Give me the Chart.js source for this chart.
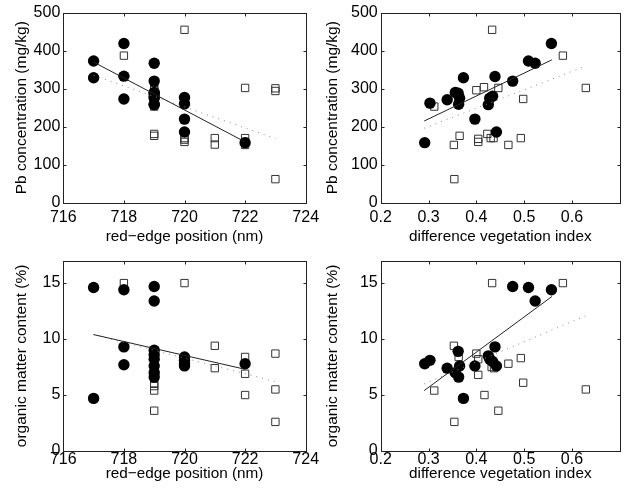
<!DOCTYPE html>
<html>
<head>
<meta charset="utf-8">
<script src="https://cdn.jsdelivr.net/npm/chart.js@4.4.1/dist/chart.umd.min.js"></script>
<style>
  body { margin: 0; background: #fff; }
  #wrap { position: relative; width: 626px; height: 493px; }
  #wrap canvas { position: absolute; left: 0; top: 0; }
</style>
</head>
<body>
<div id="wrap">
  <canvas id="pbRed" width="626" height="493"></canvas>
  <canvas id="pbDvi" width="626" height="493"></canvas>
  <canvas id="omRed" width="626" height="493"></canvas>
  <canvas id="omDvi" width="626" height="493"></canvas>
</div>
<script>
// axis ticks
const redTicks = [716, 718, 720, 722, 724];
const dviTicks = [0.2, 0.3, 0.4, 0.5, 0.6];
const pbTicks = [0, 100, 200, 300, 400, 500];
const omTicks = [0, 5, 10, 15];

// Pb vs red-edge position
const pbRedCircX = [717, 717, 718, 718, 718, 719, 719, 719, 719, 719, 719, 719, 719, 720, 720, 720, 720, 722];
const pbRedCircY = [373, 329, 419, 333, 273, 367, 320, 290, 288, 280, 275, 259, 258, 277, 260, 220, 186, 158];
const pbRedSqX = [718, 719, 719, 719, 719, 719, 719, 720, 720, 720, 720, 721, 721, 722, 722, 722, 722, 723, 723, 723];
const pbRedSqY = [387, 304, 296, 273, 253, 181, 176, 455, 170, 166, 160, 170, 153, 302, 170, 160, 152, 301, 294, 62];
const pbRedFitX = [717, 722];
const pbRedFitY = [370, 160];
const pbRedDotX = [717, 723];
const pbRedDotY = [335, 169];

// Pb vs difference vegetation index
const pbDviCircX = [0.292, 0.303, 0.339, 0.356, 0.362, 0.365, 0.363, 0.373, 0.397, 0.425, 0.428, 0.434, 0.439, 0.442, 0.476, 0.509, 0.523, 0.557];
const pbDviCircY = [158, 262, 271, 290, 288, 275, 259, 329, 220, 258, 275, 280, 332, 186, 320, 373, 367, 419];
const pbDviSqX = [0.312, 0.353, 0.354, 0.365, 0.400, 0.404, 0.404, 0.416, 0.423, 0.430, 0.436, 0.433, 0.446, 0.467, 0.493, 0.498, 0.581, 0.629];
const pbDviSqY = [253, 152, 62, 176, 296, 168, 160, 304, 181, 170, 170, 455, 302, 152, 170, 273, 387, 302];
const pbDviFitX = [0.291, 0.558];
const pbDviFitY = [215, 376];
const pbDviDotX = [0.291, 0.63];
const pbDviDotY = [196, 360];

// organic matter vs red-edge position
const omRedCircX = [717, 717, 718, 718, 718, 719, 719, 719, 719, 719, 719, 719, 719, 720, 720, 720, 720, 722];
const omRedCircY = [14.6, 4.7, 14.4, 9.3, 7.7, 14.7, 13.4, 9.0, 8.6, 8.2, 7.6, 7.0, 6.6, 8.4, 8.1, 7.8, 7.6, 7.8];
const omRedSqX = [718, 719, 719, 719, 719, 719, 720, 720, 721, 721, 722, 722, 722, 723, 723, 723];
const omRedSqY = [15.0, 8.5, 6.0, 5.8, 5.4, 3.6, 15.0, 8.2, 9.4, 7.4, 8.4, 6.9, 5.0, 8.7, 5.5, 2.6];
const omRedFitX = [717, 722];
const omRedFitY = [10.4, 7.3];
const omRedDotX = [717, 723];
const omRedDotY = [10.4, 6.2];

// organic matter vs difference vegetation index
const omDviCircX = [0.292, 0.303, 0.339, 0.356, 0.362, 0.365, 0.363, 0.373, 0.397, 0.425, 0.428, 0.434, 0.439, 0.442, 0.476, 0.509, 0.523, 0.557];
const omDviCircY = [7.8, 8.1, 7.4, 7.0, 8.9, 7.6, 6.6, 4.7, 7.6, 8.5, 8.2, 8.0, 9.3, 7.6, 14.7, 14.6, 13.4, 14.4];
const omDviSqX = [0.312, 0.353, 0.354, 0.363, 0.400, 0.404, 0.404, 0.417, 0.432, 0.437, 0.433, 0.446, 0.467, 0.493, 0.498, 0.581, 0.629];
const omDviSqY = [5.4, 9.4, 2.6, 8.4, 8.7, 8.2, 6.8, 5.0, 7.5, 7.4, 15.0, 3.6, 7.8, 8.3, 6.1, 15.0, 5.5];
const omDviFitX = [0.291, 0.558];
const omDviFitY = [5.4, 13.8];
const omDviDotX = [0.291, 0.63];
const omDviDotY = [6.0, 12.1];

const FONT = 'Liberation Sans, Arial, Helvetica, sans-serif';

function pts(xs, ys) {
    return xs.map((x, i) => ({ x: x, y: ys[i] }));
}

// matlab style box with inward ticks
const boxPlugin = {
    id: 'box',
    afterDraw(chart) {
        let ctx = chart.ctx;
        let a = chart.chartArea;
        let sx = chart.scales.x, sy = chart.scales.y;
        let L = Math.round(a.left) + 0.5, R = Math.round(a.right) + 0.5;
        let T = Math.round(a.top) + 0.5, B = Math.round(a.bottom) + 0.5;
        ctx.save();
        ctx.strokeStyle = '#222';
        ctx.lineWidth = 1;
        ctx.strokeRect(L, T, R - L, B - T);
        ctx.beginPath();
        sx.ticks.forEach(t => {
            let p = Math.round(sx.getPixelForValue(t.value)) + 0.5;
            ctx.moveTo(p, B); ctx.lineTo(p, B - 3);
            ctx.moveTo(p, T); ctx.lineTo(p, T + 3);
        });
        sy.ticks.forEach(t => {
            let p = Math.round(sy.getPixelForValue(t.value)) + 0.5;
            ctx.moveTo(L, p); ctx.lineTo(L + 3, p);
            ctx.moveTo(R, p); ctx.lineTo(R - 3, p);
        });
        ctx.stroke();
        ctx.restore();
    }
};

function createPanel(id, p) {
    let ctx = document.getElementById(id).getContext('2d');
    let datasets = [
        { data: pts(p.fitX, p.fitY), showLine: true, pointRadius: 0, borderColor: '#222', borderWidth: 1, order: 0 },
        { data: pts(p.dotX, p.dotY), showLine: true, pointRadius: 0, borderColor: '#888', borderWidth: 1, borderDash: [1, 5], order: 1 },
        { data: pts(p.circX, p.circY), pointStyle: 'circle', pointRadius: 5.7, backgroundColor: '#000', borderColor: '#000', borderWidth: 0, order: 2 },
        { data: pts(p.sqX, p.sqY), pointStyle: 'rect', pointRadius: 5.2, backgroundColor: 'rgba(0,0,0,0)', borderColor: '#333', borderWidth: 1, order: 3 }
    ];
    return new Chart(ctx, {
        type: 'scatter',
        data: { datasets: datasets },
        options: {
            responsive: false,
            animation: false,
            devicePixelRatio: 1,
            layout: { padding: p.pad },
            plugins: { legend: { display: false }, tooltip: { enabled: false } },
            scales: {
                x: {
                    type: 'linear',
                    min: p.xMin, max: p.xMax,
                    afterBuildTicks: s => { s.ticks = p.xTicks.map(v => ({ value: v })); },
                    afterFit: s => { s.height = p.xh; },
                    grid: { display: false, drawTicks: false },
                    border: { display: false },
                    ticks: { color: '#000', padding: p.xTickPad, maxRotation: 0, autoSkip: false, font: { family: FONT, size: 16, lineHeight: 1.2 } },
                    title: { display: true, text: p.xTitle, color: '#000', padding: { top: 0, bottom: p.xTitlePad }, font: { family: FONT, size: 15.3, lineHeight: 1.2 } }
                },
                y: {
                    type: 'linear',
                    min: p.yMin, max: p.yMax,
                    afterBuildTicks: s => { s.ticks = p.yTicks.map(v => ({ value: v })); },
                    afterFit: s => { s.width = p.yw; },
                    grid: { display: false, drawTicks: false },
                    border: { display: false },
                    ticks: { color: '#000', padding: 3, font: { family: FONT, size: 16 } },
                    title: { display: true, text: p.yTitle, color: '#000', padding: { top: p.yTitlePad, bottom: 0 }, font: { family: FONT, size: 15.5, lineHeight: 1.2 } }
                }
            }
        },
        plugins: [boxPlugin]
    });
}

createPanel('pbRed', {
    circX: pbRedCircX, circY: pbRedCircY, sqX: pbRedSqX, sqY: pbRedSqY,
    fitX: pbRedFitX, fitY: pbRedFitY, dotX: pbRedDotX, dotY: pbRedDotY,
    xMin: 716, xMax: 724, xTicks: redTicks, yMin: 0, yMax: 500, yTicks: pbTicks,
    xTitle: 'red\u2212edge position (nm)', yTitle: 'Pb concentration (mg/kg)',
    pad: { left: 0, top: 12.7, right: 320.3, bottom: 247 },
    yw: 63.3, xh: 43.3, xTickPad: 5, xTitlePad: 0, yTitlePad: 12.7
});
createPanel('pbDvi', {
    circX: pbDviCircX, circY: pbDviCircY, sqX: pbDviSqX, sqY: pbDviSqY,
    fitX: pbDviFitX, fitY: pbDviFitY, dotX: pbDviDotX, dotY: pbDviDotY,
    xMin: 0.2, xMax: 0.7, xTicks: dviTicks, yMin: 0, yMax: 500, yTicks: pbTicks,
    xTitle: 'difference vegetation index', yTitle: 'Pb concentration (mg/kg)',
    pad: { left: 313, top: 12.7, right: 3, bottom: 247 },
    yw: 67.7, xh: 43.3, xTickPad: 5, xTitlePad: 0, yTitlePad: 10
});
createPanel('omRed', {
    circX: omRedCircX, circY: omRedCircY, sqX: omRedSqX, sqY: omRedSqY,
    fitX: omRedFitX, fitY: omRedFitY, dotX: omRedDotX, dotY: omRedDotY,
    xMin: 716, xMax: 724, xTicks: redTicks, yMin: 0, yMax: 17, yTicks: omTicks,
    xTitle: 'red\u2212edge position (nm)', yTitle: 'organic matter content (%)',
    pad: { left: 0, top: 260.7, right: 320.3, bottom: 0 },
    yw: 63.3, xh: 42, xTickPad: -1.5, xTitlePad: 10, yTitlePad: 12.7
});
createPanel('omDvi', {
    circX: omDviCircX, circY: omDviCircY, sqX: omDviSqX, sqY: omDviSqY,
    fitX: omDviFitX, fitY: omDviFitY, dotX: omDviDotX, dotY: omDviDotY,
    xMin: 0.2, xMax: 0.7, xTicks: dviTicks, yMin: 0, yMax: 17, yTicks: omTicks,
    xTitle: 'difference vegetation index', yTitle: 'organic matter content (%)',
    pad: { left: 313, top: 260.7, right: 3, bottom: 0 },
    yw: 67.7, xh: 42, xTickPad: -1.5, xTitlePad: 10, yTitlePad: 10
});
</script>
</body>
</html>
